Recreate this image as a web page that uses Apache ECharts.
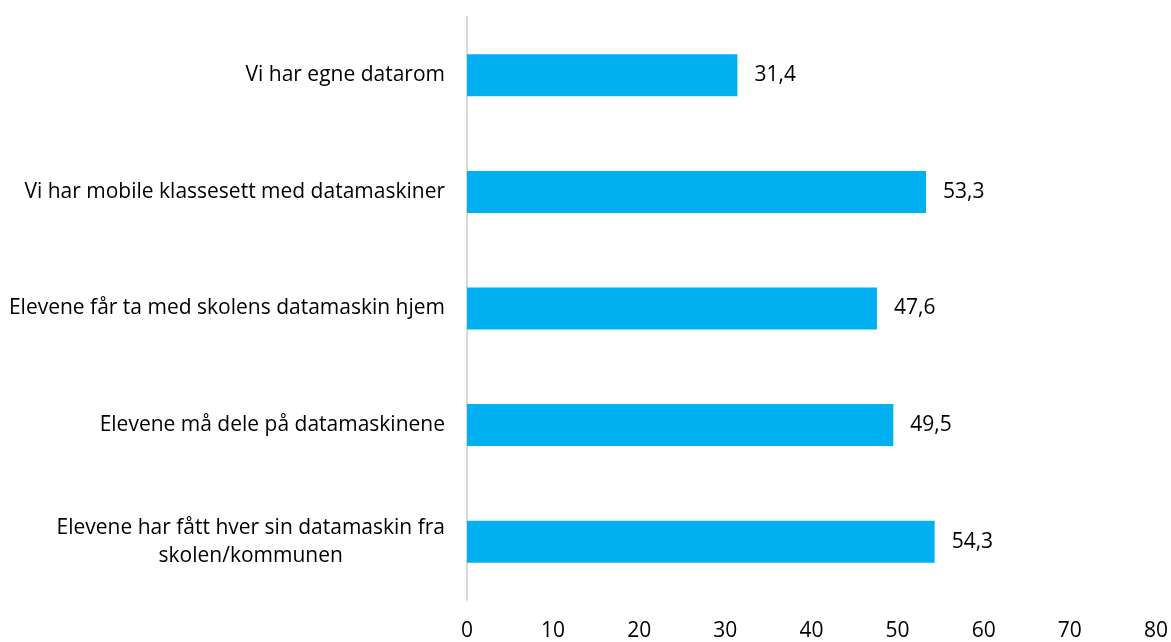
<!DOCTYPE html>
<html>
<head>
<meta charset="utf-8">
<script src="https://cdn.jsdelivr.net/npm/echarts@6/dist/echarts.min.js"></script>
<style>
  html, body { margin: 0; padding: 0; background: #fff; }
  #chart { width: 1171px; height: 642px; }
</style>
</head>
<body>
<div id="chart"></div>
<script>
// Categories, top to bottom
const categories = [
  'Vi har egne datarom',
  'Vi har mobile klassesett med datamaskiner',
  'Elevene får ta med skolens datamaskin hjem',
  'Elevene må dele på datamaskinene',
  'Elevene har fått hver sin datamaskin fra\nskolen/kommunen'
];
// Percent of schools
const values = [31.4, 53.3, 47.6, 49.5, 54.3];
// Value axis ticks
const axisMin = 0;
const axisMax = 80;
const axisStep = 10;

const FONT = '"Open Sans"';
const FONT_SIZE = 21;
const chart = echarts.init(document.getElementById('chart'), null, { renderer: 'canvas' });

chart.setOption({
  animation: false,
  grid: { left: 467, right: 14, top: 17, bottom: 42, containLabel: false },
  xAxis: {
    type: 'value',
    min: axisMin,
    max: axisMax,
    interval: axisStep,
    axisLine: { show: false },
    axisTick: { show: false },
    splitLine: { show: false },
    axisLabel: { color: '#000', fontFamily: FONT, fontSize: FONT_SIZE, margin: 21 }
  },
  yAxis: {
    type: 'category',
    inverse: true,
    data: categories,
    axisLine: { show: true, lineStyle: { color: '#d9d9d9', width: 2 } },
    axisTick: { show: false },
    axisLabel: {
      margin: 22,
      formatter: v => v.split('\n').map(s => '{c|' + s + '}').join('\n'),
      rich: { c: { align: 'center', color: '#000', fontFamily: FONT, fontSize: FONT_SIZE, lineHeight: 28 } }
    }
  },
  series: [{
    type: 'bar',
    data: values,
    barWidth: '36%',
    itemStyle: { color: '#00b0f0' },
    label: {
      show: true,
      position: 'right',
      distance: 17,
      color: '#000',
      fontFamily: FONT,
      fontSize: FONT_SIZE,
      formatter: p => p.value.toFixed(1).replace('.', ',')
    }
  }]
});
</script>
</body>
</html>
